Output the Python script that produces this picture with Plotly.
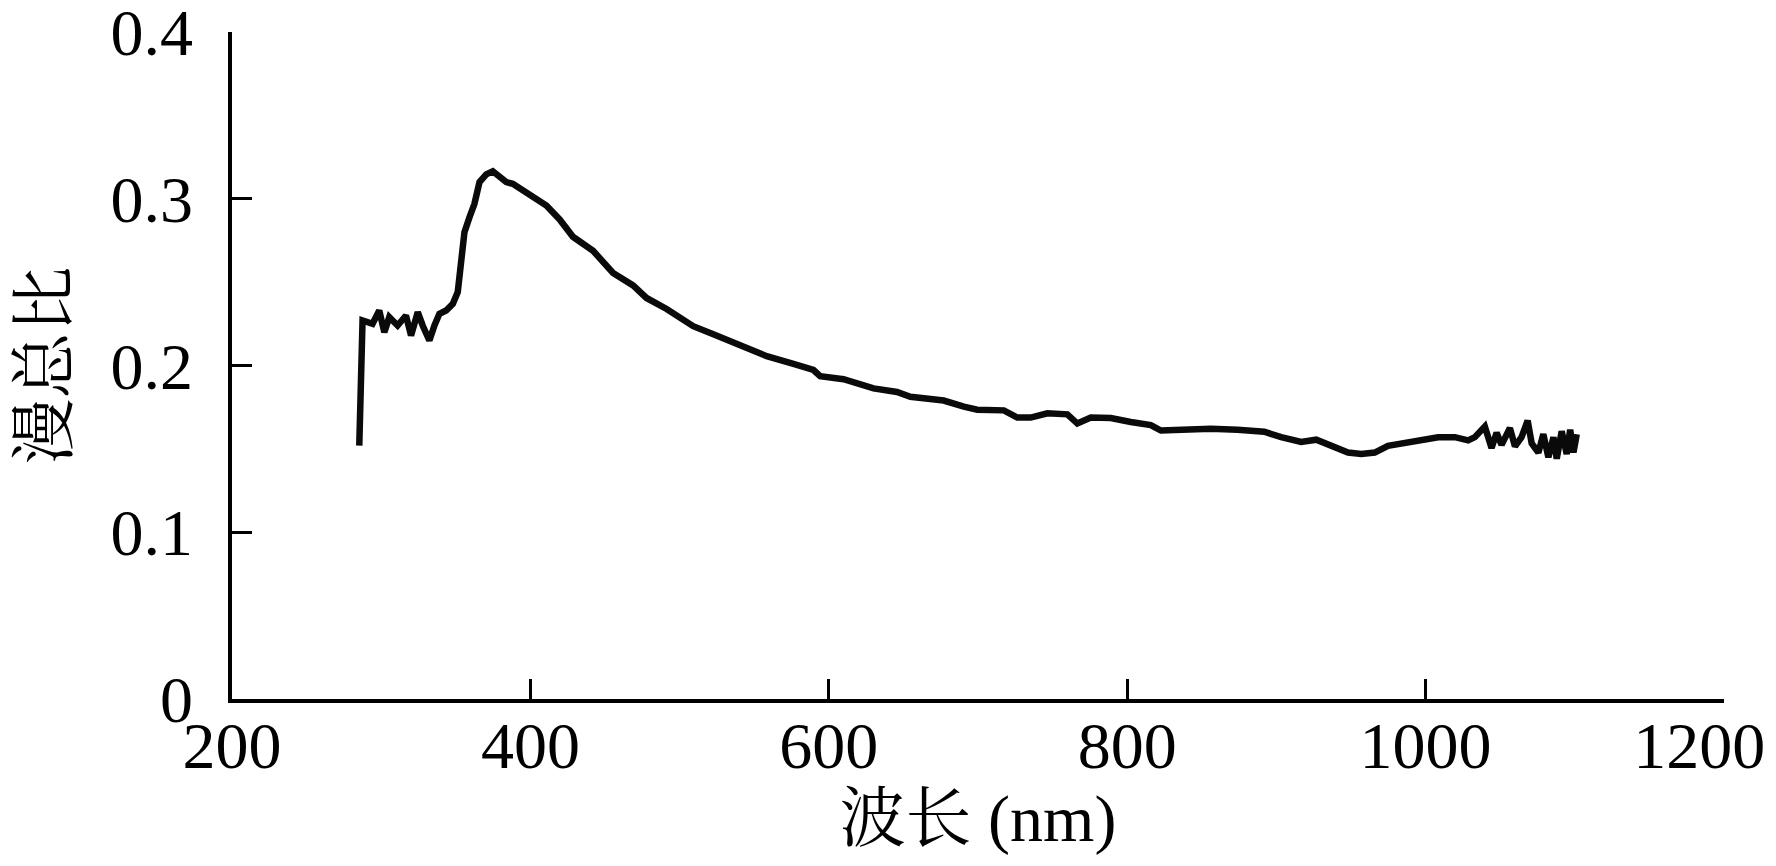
import plotly.graph_objects as go

# Wavelength (nm) and diffuse-to-total ratio
wavelength = [
    285.3, 287.5, 294.2, 298.7, 302.1, 305.4, 311.0, 316.6, 320.0, 324.5,
    327.8, 332.3, 335.7, 339.0, 343.5, 348.0, 351.3, 353.6, 355.8, 359.2,
    362.5, 365.9, 370.4, 374.8, 379.3, 383.8, 388.2, 394.9, 401.7, 410.7,
    419.6, 428.5, 442.0, 455.4, 468.8, 477.8, 491.3, 509.1, 522.6, 540.5,
    558.4, 576.3, 589.7, 594.2, 609.9, 630.0, 645.7, 654.7, 677.0, 690.5,
    699.5, 717.3, 726.3, 735.3, 746.5, 759.9, 766.6, 775.6, 789.0, 802.4,
    815.8, 822.6, 838.2, 856.1, 874.0, 891.9, 903.2, 916.6, 926.7, 934.5,
    948.0, 956.9, 965.9, 974.8, 990.5, 997.2, 1008.4, 1019.6, 1028.5, 1033.0,
    1039.7, 1044.2, 1047.6, 1050.9, 1056.5, 1059.9, 1064.3, 1068.4, 1071.1, 1075.6,
    1078.9, 1082.3, 1085.7, 1087.9, 1091.2, 1094.6, 1096.9, 1099.1, 1101.3, 1100.2,
]
ratio = [
    0.152, 0.227, 0.225, 0.233, 0.220, 0.229, 0.224, 0.230, 0.218, 0.232,
    0.224, 0.215, 0.224, 0.231, 0.233, 0.237, 0.244, 0.261, 0.280, 0.289,
    0.297, 0.310, 0.3146, 0.3165, 0.3137, 0.310, 0.309, 0.3054, 0.3017, 0.296,
    0.2876, 0.2772, 0.2688, 0.2555, 0.248, 0.2405, 0.2339, 0.2236, 0.2188, 0.2123,
    0.2056, 0.201, 0.1973, 0.1936, 0.1918, 0.1863, 0.1841, 0.1812, 0.179, 0.1753,
    0.1735, 0.1731, 0.1688, 0.1688, 0.1713, 0.1707, 0.1652, 0.1688, 0.1685, 0.1661,
    0.1643, 0.161, 0.1615, 0.1621, 0.1615, 0.1603, 0.157, 0.1542, 0.1555, 0.1524,
    0.1478, 0.1469, 0.1478, 0.1518, 0.1542, 0.156, 0.157, 0.157, 0.1551, 0.157,
    0.1634, 0.1505, 0.1597, 0.1524, 0.1625, 0.1515, 0.157, 0.167, 0.1533, 0.1478,
    0.1588, 0.145, 0.157, 0.1441, 0.1606, 0.1469, 0.1615, 0.1478, 0.1588, 0.1533,
]

x_ticks = [200, 400, 600, 800, 1000, 1200]
x_tick_text = ["200", "400", "600", "800", "1000", "1200"]
y_ticks = [0, 0.1, 0.2, 0.3, 0.4]
y_tick_text = ["0", "0.1", "0.2", "0.3", "0.4"]

x_title = "波长 (nm)"
y_title = "漫总比"

FONT = "Liberation Serif, Noto Serif CJK SC, Noto Sans CJK SC, serif"
NBSP = "\u00a0"

# the last label is padded so it sits left of its tick inside the page, as in the reference
x_tick_labels = x_tick_text[:-1] + [x_tick_text[-1] + NBSP * 3]

fig = go.Figure()
fig.add_trace(go.Scatter(
    x=wavelength, y=ratio, mode="lines",
    line=dict(color="#0a0a0a", width=6.5),
    showlegend=False, hoverinfo="skip",
))

fig.update_layout(
    width=1776, height=866,
    margin=dict(l=224, r=60, t=24, b=175, autoexpand=False),
    paper_bgcolor="white", plot_bgcolor="white",
    font=dict(family=FONT, color="black", size=66),
)

fig.update_xaxes(
    range=[200, 1200], tickvals=x_ticks, ticktext=x_tick_labels,
    showgrid=False, zeroline=False,
    showline=True, linecolor="black", linewidth=3.5,
    ticks="inside", ticklen=20, tickwidth=3, tickcolor="black",
    tickfont=dict(family=FONT, size=66, color="black"),
    ticklabeloverflow="allow", ticklabelstandoff=-14,
    title=dict(text=x_title, font=dict(family=FONT, size=66, color="black"), standoff=8),
)
fig.update_yaxes(
    range=[0, 0.4], tickvals=y_ticks, ticktext=y_tick_text,
    showgrid=False, zeroline=False,
    showline=True, linecolor="black", linewidth=3.5,
    ticks="inside", ticklen=20, tickwidth=3, tickcolor="black",
    tickfont=dict(family=FONT, size=66, color="black"),
    ticklabeloverflow="allow", ticklabelstandoff=22,
    title=dict(text=y_title, font=dict(family=FONT, size=66, color="black"), standoff=48),
)

fig.write_html("out.html")
